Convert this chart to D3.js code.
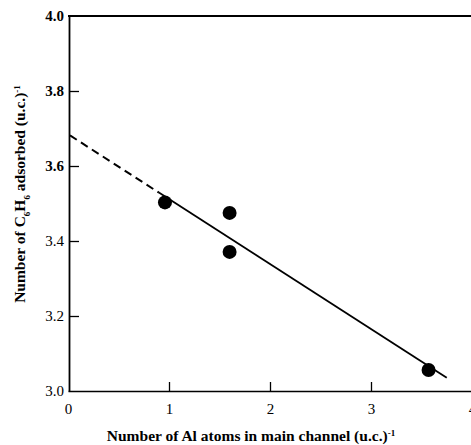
<!DOCTYPE html>
<html>
<head>
<meta charset="utf-8">
<script src="https://cdn.jsdelivr.net/npm/d3@7"></script>
<style>
  body { margin: 0; background: #fff; }
  text { font-family: "Liberation Serif", "Times New Roman", serif; fill: #000; }
</style>
</head>
<body>
<div id="vis1"></div>
<script>
const FRAME_WIDTH = 471;
const FRAME_HEIGHT = 445;

// data
const AL_ATOMS = [0.96, 1.60, 1.60, 3.57];
const C6H6 = [3.503, 3.475, 3.371, 3.056];
const X_TICKS = [0, 1, 2, 3, 4];
const Y_TICKS = [3.0, 3.2, 3.4, 3.6, 3.8, 4.0];
// fitted line: dashed part then solid part
const FIT_DASHED_X = [0.02, 0.9];
const FIT_SOLID_X = [0.9, 3.75];
const FIT_INTERCEPT = 3.685;
const FIT_SLOPE = -0.1733;

const X_SCALE = d3.scaleLinear().domain([0, 4]).range([68, 472]);
const Y_SCALE = d3.scaleLinear().domain([3.0, 4.0]).range([391, 16]);

const FRAME1 = d3.select("#vis1")
                  .append("svg")
                  .attr("width", FRAME_WIDTH)
                  .attr("height", FRAME_HEIGHT);

// bottom axis, ticks pointing in
const xAxis = FRAME1.append("g")
      .attr("transform", "translate(0," + Y_SCALE(3.0) + ")")
      .call(d3.axisBottom(X_SCALE).tickValues(X_TICKS).tickSizeInner(-9).tickSizeOuter(0)
              .tickPadding(12).tickFormat(d3.format("d")));
xAxis.select(".domain").attr("stroke-width", 1.6);
xAxis.selectAll(".tick line").attr("stroke-width", 1.3)
     .filter((d) => d === 0).remove();
xAxis.selectAll(".tick text").attr("font-size", "15px").attr("font-family", "Liberation Serif");

// left axis
const yAxis = FRAME1.append("g")
      .attr("transform", "translate(" + (X_SCALE(0) + 1) + ",0)")
      .call(d3.axisLeft(Y_SCALE).tickValues(Y_TICKS).tickSizeInner(-10).tickSizeOuter(0)
              .tickPadding(5).tickFormat(d3.format(".1f")));
yAxis.select(".domain").attr("stroke-width", 1.8);
yAxis.selectAll(".tick line").attr("stroke-width", 1.3)
     .filter((d) => d === 3.0 || d === 4.0).remove();
yAxis.selectAll(".tick text").attr("font-size", "15px").attr("font-family", "Liberation Serif")
     .attr("font-weight", (d) => d >= 3.6 ? "bold" : "normal");

// top frame line
FRAME1.append("line")
      .attr("x1", X_SCALE(0)).attr("x2", X_SCALE(4))
      .attr("y1", Y_SCALE(4.0)).attr("y2", Y_SCALE(4.0))
      .attr("stroke", "#000").attr("stroke-width", 1.8);

const fit = (x) => FIT_INTERCEPT + FIT_SLOPE * x;
const LINE = d3.line().x((d) => X_SCALE(d)).y((d) => Y_SCALE(fit(d)));

FRAME1.append("path")
      .attr("d", LINE(FIT_DASHED_X))
      .attr("fill", "none").attr("stroke", "#000").attr("stroke-width", 2)
      .attr("stroke-dasharray", "8,5");

FRAME1.append("path")
      .attr("d", LINE(FIT_SOLID_X))
      .attr("fill", "none").attr("stroke", "#000").attr("stroke-width", 1.8);

FRAME1.selectAll("circle")
      .data(AL_ATOMS)
      .enter()
      .append("circle")
        .attr("cx", (d) => X_SCALE(d))
        .attr("cy", (d, i) => Y_SCALE(C6H6[i]))
        .attr("r", 7)
        .attr("fill", "#000");

// axis titles
const xTitle = FRAME1.append("text")
      .attr("x", 251).attr("y", 441)
      .attr("text-anchor", "middle")
      .attr("font-size", "15.5px").attr("font-weight", "bold")
      .text("Number of Al atoms in main channel (u.c.)");
xTitle.append("tspan").attr("baseline-shift", "super").attr("font-size", "9px").text("-1");

const yTitle = FRAME1.append("text")
      .attr("transform", "translate(25,194) rotate(-90)")
      .attr("text-anchor", "middle")
      .attr("font-size", "15.5px").attr("font-weight", "bold")
      .text("Number of C");
yTitle.append("tspan").attr("baseline-shift", "sub").attr("font-size", "9px").text("6");
yTitle.append("tspan").text("H");
yTitle.append("tspan").attr("baseline-shift", "sub").attr("font-size", "9px").text("6");
yTitle.append("tspan").text(" adsorbed (u.c.)");
yTitle.append("tspan").attr("baseline-shift", "super").attr("font-size", "9px").text("-1");
</script>
</body>
</html>
